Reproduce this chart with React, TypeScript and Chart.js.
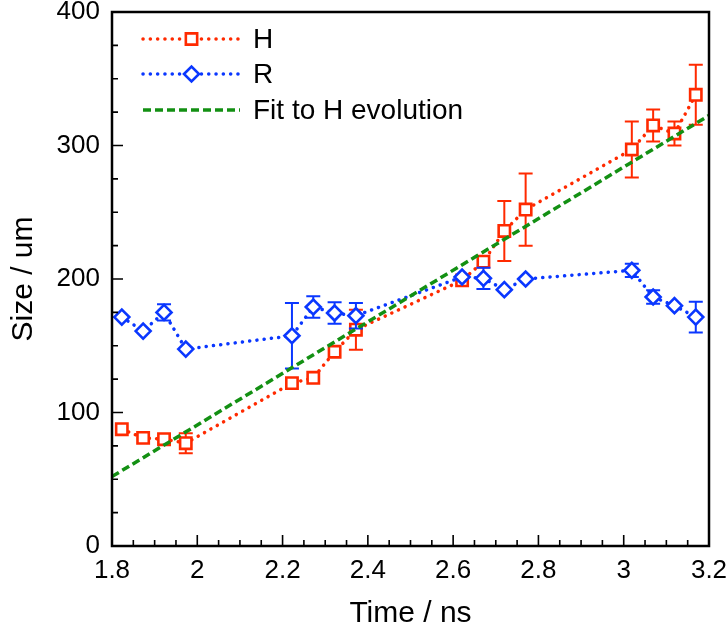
import React, { useEffect, useRef } from 'react';
import { Chart, registerables } from 'chart.js';

Chart.register(...registerables);

// ---- data ----
const times = [1.823, 1.873, 1.922, 1.973, 2.222, 2.272, 2.322, 2.372, 2.621, 2.671, 2.72, 2.77, 3.019, 3.069, 3.119, 3.169];
const sizeH = [87.5, 81, 80, 77, 122, 126, 145.5, 162, 199, 213, 236, 252, 297, 315, 309, 338];
const errH = [0, 0, 0, 7.5, 0, 0, 0, 15, 0, 0, 22.5, 27, 21, 12, 9, 22.5];
const sizeR = [171.5, 161, 175, 147.5, 157.5, 179, 174.5, 172.5, 201.5, 200.5, 192, 200, 206.5, 186.5, 180, 171.5];
const errR = [0, 0, 6, 0, 24.5, 8, 8, 9.5, 0, 8, 0, 0, 5, 5, 0, 11.5];
const fitTime = [1.8, 3.2];
const fitSize = [52, 322.5];
const seriesLabels = ['H', 'R', 'Fit to H evolution'];
const xTitle = 'Time / ns';
const yTitle = 'Size / um';
const xRange = [1.8, 3.2];
const yRange = [0, 400];
const xMajorStep = 0.2;
const xMinorStep = 0.05;
const yMajorStep = 100;
const yMinorStep = 25;

const RED = '#ff2a00';
const BLUE = '#0a37ff';
const GREEN = '#139013';
const FONT = "'Liberation Sans', Arial, Helvetica, sans-serif";

const errorBarsPlugin = {
  id: 'errorBars',
  beforeDatasetDraw(chart: any, args: any) {
    const ds = chart.data.datasets[args.index];
    const errs = ds.errors as number[] | undefined;
    if (!errs) return;
    const { ctx } = chart;
    const xs = chart.scales.x;
    const ys = chart.scales.y;
    ctx.save();
    ctx.strokeStyle = ds.borderColor;
    ctx.lineWidth = 2;
    ctx.setLineDash([]);
    const cap = 7;
    ds.data.forEach((p: any, i: number) => {
      const e = errs[i];
      if (!e) return;
      const px = xs.getPixelForValue(p.x);
      const top = ys.getPixelForValue(p.y + e);
      const bot = ys.getPixelForValue(p.y - e);
      ctx.beginPath();
      ctx.moveTo(px, top);
      ctx.lineTo(px, bot);
      ctx.moveTo(px - cap, top);
      ctx.lineTo(px + cap, top);
      ctx.moveTo(px - cap, bot);
      ctx.lineTo(px + cap, bot);
      ctx.stroke();
    });
    ctx.restore();
  },
};

const framePlugin = {
  id: 'frame',
  afterDatasetsDraw(chart: any) {
    const { ctx, chartArea: a } = chart;
    const xs = chart.scales.x;
    const ys = chart.scales.y;
    ctx.save();
    ctx.strokeStyle = '#000';
    ctx.setLineDash([]);
    ctx.lineWidth = 1.6;
    ctx.beginPath();
    const nx = Math.round((xRange[1] - xRange[0]) / xMinorStep);
    for (let i = 1; i < nx; i++) {
      const v = xRange[0] + i * xMinorStep;
      const major = i % Math.round(xMajorStep / xMinorStep) === 0;
      const px = xs.getPixelForValue(v);
      ctx.moveTo(px, a.bottom);
      ctx.lineTo(px, a.bottom - (major ? 11 : 6));
    }
    const ny = Math.round((yRange[1] - yRange[0]) / yMinorStep);
    for (let i = 1; i < ny; i++) {
      const v = yRange[0] + i * yMinorStep;
      const major = i % Math.round(yMajorStep / yMinorStep) === 0;
      const py = ys.getPixelForValue(v);
      ctx.moveTo(a.left, py);
      ctx.lineTo(a.left + (major ? 11 : 6), py);
    }
    ctx.stroke();
    ctx.lineWidth = 2.5;
    ctx.strokeRect(a.left, a.top, a.right - a.left, a.bottom - a.top);
    ctx.restore();
  },
};

const legendPlugin = {
  id: 'customLegend',
  afterDraw(chart: any) {
    const { ctx } = chart;
    const x0 = 143;
    const x1 = 240;
    const tx = 253;
    const rows = [39, 74, 110];
    ctx.save();
    chart.data.datasets.forEach((ds: any, i: number) => {
      const y = rows[i];
      ctx.strokeStyle = ds.borderColor;
      ctx.lineWidth = ds.borderWidth;
      ctx.lineCap = ds.borderCapStyle || 'butt';
      ctx.setLineDash(ds.borderDash || []);
      ctx.beginPath();
      ctx.moveTo(x0, y);
      ctx.lineTo(x1, y);
      ctx.stroke();
      ctx.setLineDash([]);
      if (ds.pointRadius > 0) {
        ctx.fillStyle = '#fff';
        ctx.strokeStyle = ds.borderColor;
        ctx.lineWidth = ds.pointBorderWidth;
        const cx = (x0 + x1) / 2;
        const r = ds.pointRadius;
        ctx.beginPath();
        if (ds.pointStyle === 'rect') {
          const s = r * Math.SQRT1_2;
          ctx.rect(cx - s, y - s, 2 * s, 2 * s);
        } else {
          ctx.moveTo(cx - r, y);
          ctx.lineTo(cx, y - r);
          ctx.lineTo(cx + r, y);
          ctx.lineTo(cx, y + r);
          ctx.closePath();
        }
        ctx.fill();
        ctx.stroke();
      }
      ctx.fillStyle = '#000';
      ctx.font = `28px ${FONT}`;
      ctx.textAlign = 'left';
      ctx.textBaseline = 'middle';
      ctx.fillText(ds.label, tx, y + 1);
    });
    ctx.restore();
  },
};

export default function App() {
  const ref = useRef<HTMLCanvasElement>(null);
  useEffect(() => {
    if (!ref.current) return;
    const dotted = {
      borderWidth: 3.5,
      borderDash: [0.1, 7.2],
      borderCapStyle: 'round',
      pointBackgroundColor: '#fff',
      pointBorderWidth: 2.6,
      pointHoverRadius: 0,
      fill: false,
      tension: 0,
    };
    const chart = new Chart(ref.current, {
      type: 'line',
      data: {
        datasets: [
          {
            ...dotted,
            label: seriesLabels[0],
            data: times.map((t, i) => ({ x: t, y: sizeH[i] })),
            errors: errH,
            borderColor: RED,
            pointBorderColor: RED,
            pointStyle: 'rect',
            pointRadius: 8,
            order: 2,
          } as any,
          {
            ...dotted,
            label: seriesLabels[1],
            data: times.map((t, i) => ({ x: t, y: sizeR[i] })),
            errors: errR,
            borderColor: BLUE,
            pointBorderColor: BLUE,
            pointStyle: 'rectRot',
            pointRadius: 7.5,
            order: 1,
          } as any,
          {
            label: seriesLabels[2],
            data: fitTime.map((t, i) => ({ x: t, y: fitSize[i] })),
            borderColor: GREEN,
            borderWidth: 3.5,
            borderDash: [8, 4],
            borderCapStyle: 'butt',
            pointRadius: 0,
            fill: false,
            order: 0,
          } as any,
        ],
      },
      options: {
        animation: false,
        responsive: false,
        devicePixelRatio: 1,
        events: [],
        layout: { padding: { top: 12, right: 19, left: 0, bottom: 0 } },
        plugins: {
          legend: { display: false },
          tooltip: { enabled: false },
        },
        scales: {
          x: {
            type: 'linear',
            min: xRange[0],
            max: xRange[1],
            grid: { display: false, drawTicks: false },
            border: { display: false },
            ticks: {
              stepSize: xMajorStep,
              color: '#000',
              padding: 9,
              font: { family: FONT, size: 26 },
              maxRotation: 0,
              autoSkip: false,
              callback: (v: any) => String(Math.round(Number(v) * 10) / 10),
            },
            title: {
              display: true,
              text: xTitle,
              color: '#000',
              font: { family: FONT, size: 30, lineHeight: 1 },
              padding: { top: 0, bottom: 1 },
            },
            afterFit: (s: any) => {
              s.height = 84;
              s.paddingLeft = 0;
              s.paddingRight = 0;
            },
          },
          y: {
            type: 'linear',
            min: yRange[0],
            max: yRange[1],
            grid: { display: false, drawTicks: false },
            border: { display: false },
            ticks: {
              stepSize: yMajorStep,
              color: '#000',
              padding: 12,
              font: { family: FONT, size: 26 },
            },
            title: {
              display: true,
              text: yTitle,
              color: '#000',
              font: { family: FONT, size: 30, lineHeight: 1 },
              padding: { top: 9, bottom: 0 },
            },
            afterFit: (s: any) => {
              s.width = 112;
              s.paddingTop = 0;
              s.paddingBottom = 0;
            },
          },
        },
      } as any,
      plugins: [errorBarsPlugin, framePlugin, legendPlugin],
    });
    return () => chart.destroy();
  }, []);
  return (
    <div style={{ position: 'absolute', left: 0, top: 0, width: 728, height: 630, background: '#fff' }}>
      <canvas ref={ref} width={728} height={630} style={{ width: 728, height: 630, display: 'block' }} />
    </div>
  );
}
